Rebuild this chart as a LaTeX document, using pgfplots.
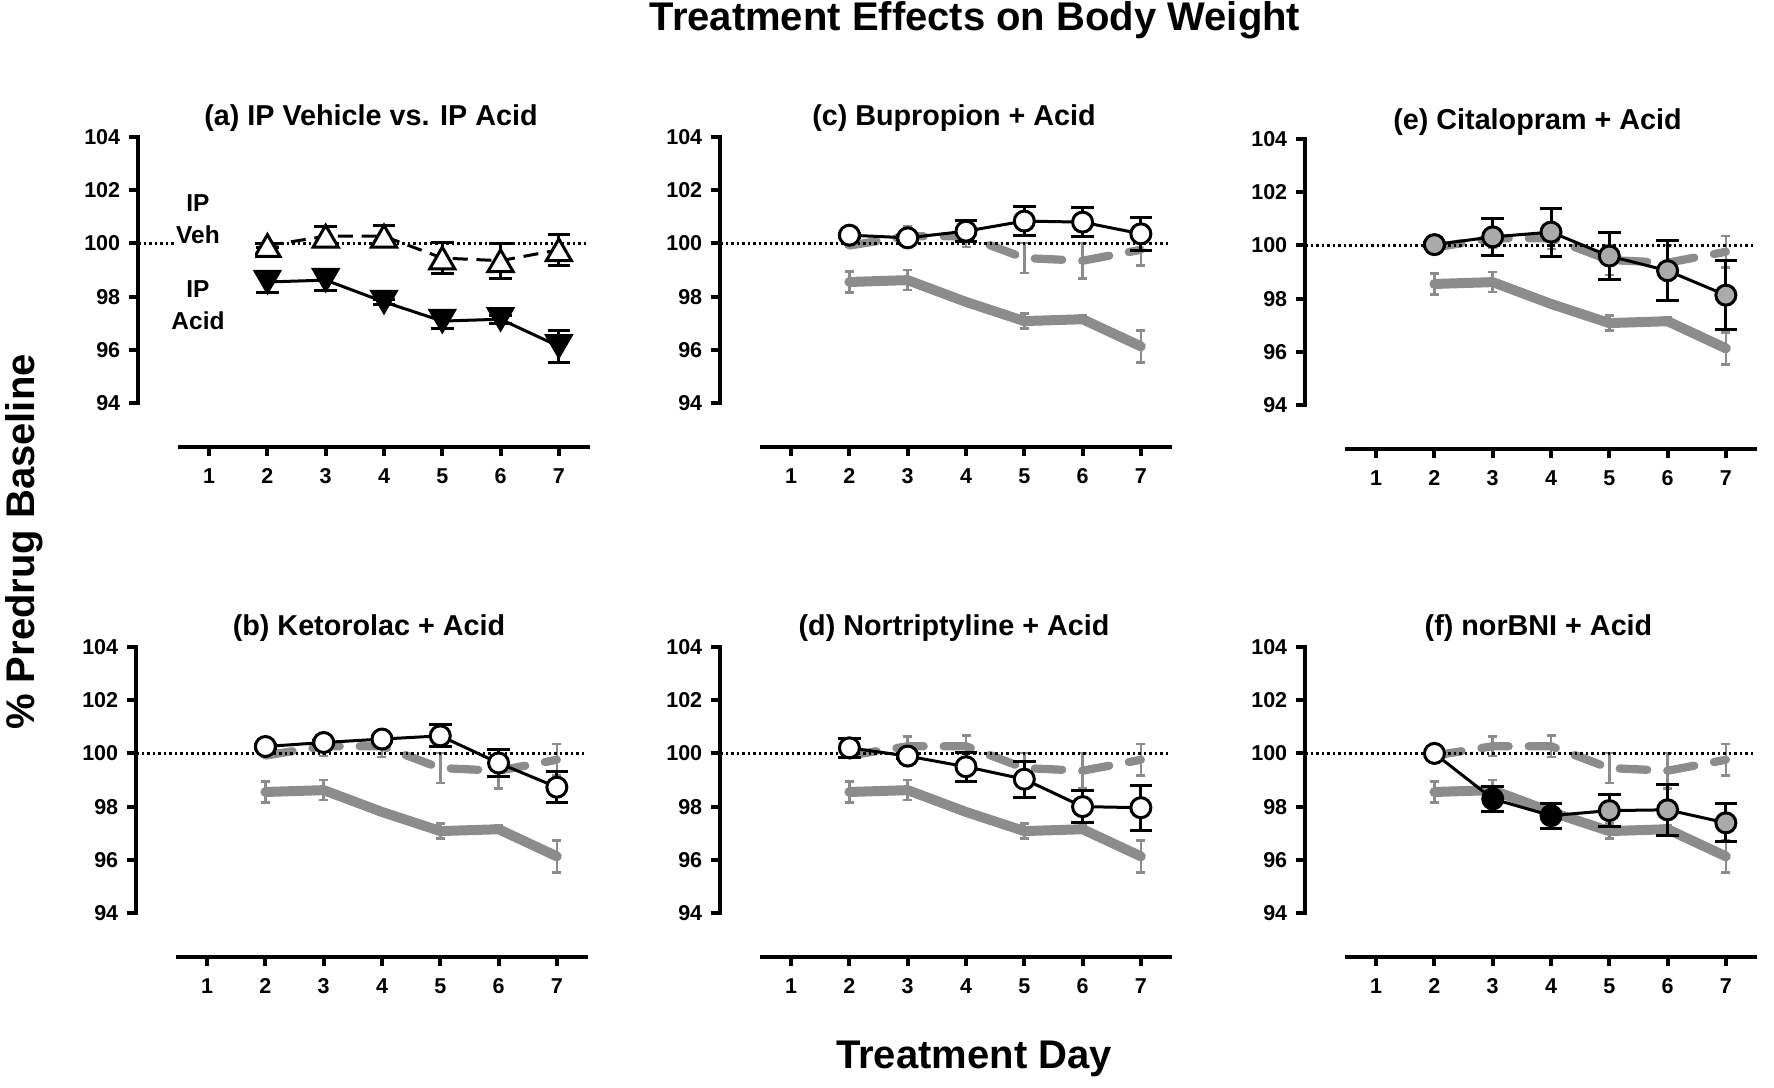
\documentclass[border=0pt]{standalone}
\usepackage{fontspec}
\setmainfont{Liberation Sans}
\usepackage{pgfplots}
\usepackage{pgfplotstable}
\pgfplotsset{compat=1.18}
\definecolor{refgray}{HTML}{8C8C8C}
\definecolor{circgray}{HTML}{AAAAAA}

\pgfplotstableread{
day y e
2 99.92 0.06
3 100.27 0.37
4 100.27 0.40
5 99.45 0.57
6 99.35 0.66
7 99.76 0.59
}\veh
\pgfplotstableread{
day y e
2 98.55 0.40
3 98.62 0.38
4 97.80 0.10
5 97.08 0.28
6 97.15 0.15
7 96.13 0.60
}\acid
\pgfplotstableread{
day y e
2 100.31 0.08
3 100.21 0.08
4 100.46 0.40
5 100.84 0.55
6 100.80 0.55
7 100.36 0.62
}\bup
\pgfplotstableread{
day y e
2 100.03 0.08
3 100.32 0.70
4 100.50 0.90
5 99.60 0.89
6 99.05 1.12
7 98.13 1.30
}\cit
\pgfplotstableread{
day y e
2 100.26 0.08
3 100.41 0.08
4 100.54 0.10
5 100.66 0.41
6 99.64 0.51
7 98.73 0.58
}\ket
\pgfplotstableread{
day y e
2 100.21 0.36
3 99.90 0.10
4 99.50 0.55
5 99.03 0.67
6 98.00 0.60
7 97.96 0.84
}\nor
\pgfplotstableread{
day y e
2 100.00 0.00
3 98.29 0.47
4 97.66 0.47
5 97.85 0.61
6 97.88 0.97
7 97.39 0.72
}\nbni

\pgfplotsset{
  panel/.style={
    scale only axis, width=163.2pt, height=106.4pt,
    xmin=0.5, xmax=7.5, ymin=94, ymax=104,
    axis x line*=bottom, axis y line*=left,
    axis x line shift=17.6pt, axis y line shift=16.8pt,
    axis line style={line width=1.6pt, line cap=rect},
    xtick={1,2,3,4,5,6,7}, ytick={94,96,98,100,102,104},
    tick align=outside, major tick length=3.6pt,
    tick style={line width=1.6pt, black},
    tick label style={font=\fontsize{8.6}{10}\selectfont\bfseries},
    xticklabel style={yshift=-1.5pt},
    /pgf/number format/assume math mode=true,
    clip=false, anchor=south west,
  },
  ebars/.style={
    error bars/y dir=both, error bars/y explicit,
    error bars/error bar style={solid, line width=1.2pt, line cap=butt},
    error bars/error mark options={solid, rotate=90, mark size=4.5pt, line width=1.2pt},
  },
  gbars/.style={
    error bars/y dir=both, error bars/y explicit,
    error bars/error bar style={solid, line width=1pt, line cap=butt, refgray},
    error bars/error mark options={solid, rotate=90, mark size=1.8pt, line width=1pt, refgray},
  },
  blk/.style={black, line width=1.2pt, mark=*, mark size=4pt,
    mark options={solid, fill=white, line width=1.2pt}, ebars},
}

\newcommand{\refplots}{%
  \addplot[refgray, line width=3.3pt, line cap=round, dash pattern=on 11pt off 8pt, gbars]
    table[x=day, y=y, y error=e] {\veh};
  \addplot[refgray, line width=4pt, line join=round, line cap=round, gbars]
    table[x=day, y=y, y error=e] {\acid};
}
\newcommand{\dotline}{%
  \addplot[black, line width=1.1pt, dash pattern=on 1.1pt off 1.1pt] coordinates {(-0.22,100) (7.5,100)};
}

\begin{document}
\begin{tikzpicture}
\useasboundingbox (0,0) rectangle (709.6pt,-434.8pt);

% (a)
\begin{axis}[panel, at={(72pt,-161.2pt)}]
  \dotline
  \addplot[black, line width=1.2pt, dash pattern=on 6pt off 3.5pt, mark=triangle*, mark size=5.8pt,
    mark options={solid, fill=white, line width=1.2pt, yshift=-1.45pt}, ebars]
    table[x=day, y=y, y error=e] {\veh};
  \addplot[black, line width=1.2pt, mark=triangle*, mark size=5.8pt,
    mark options={solid, fill=black, rotate=180, line width=1pt, yshift=-1.45pt}, ebars]
    table[x=day, y=y, y error=e] {\acid};
\end{axis}
\fill[white] (70.8pt,-76pt) rectangle (102pt,-104pt);
\node[align=center, font=\fontsize{9.8}{12.8}\selectfont\bfseries] at (79.2pt,-87.6pt) {IP\\Veh};
\node[align=center, font=\fontsize{9.8}{12.8}\selectfont\bfseries] at (79.2pt,-122pt) {IP\\Acid};

% (c)
\begin{axis}[panel, at={(304.8pt,-161.2pt)}]
  \refplots
  \dotline
  \addplot[blk] table[x=day, y=y, y error=e] {\bup};
\end{axis}

% (e)
\begin{axis}[panel, at={(538.8pt,-162pt)}]
  \refplots
  \dotline
  \addplot[blk, mark options={fill=circgray}] table[x=day, y=y, y error=e] {\cit};
\end{axis}

% (b)
\begin{axis}[panel, at={(71.2pt,-365.2pt)}]
  \refplots
  \dotline
  \addplot[blk] table[x=day, y=y, y error=e] {\ket};
\end{axis}

% (d)
\begin{axis}[panel, at={(304.8pt,-365.2pt)}]
  \refplots
  \dotline
  \addplot[blk] table[x=day, y=y, y error=e] {\nor};
\end{axis}

% (f)
\begin{axis}[panel, at={(538.8pt,-365.2pt)}]
  \refplots
  \dotline
  \addplot[black, line width=1.2pt, no marks, ebars] table[x=day, y=y, y error=e] {\nbni};
  \addplot[only marks, mark=*, mark size=4pt, mark options={fill=white, draw=black, line width=1.2pt}] coordinates {(2,100.00)};
  \addplot[only marks, mark=*, mark size=4pt, mark options={fill=black, draw=black, line width=1.2pt}] coordinates {(3,98.29) (4,97.66)};
  \addplot[only marks, mark=*, mark size=4pt, mark options={fill=circgray, draw=black, line width=1.2pt}] coordinates {(5,97.85) (6,97.88) (7,97.39)};
\end{axis}

% panel titles
\begin{scope}[every node/.style={font=\fontsize{11.5}{13}\selectfont\bfseries}]
\node at (148.4pt,-47.2pt) {(a) IP Vehicle vs. IP Acid};
\node at (381.6pt,-47.2pt) {(c) Bupropion + Acid};
\node at (615pt,-48.8pt) {(e) Citalopram + Acid};
\node at (147.6pt,-251.2pt) {(b) Ketorolac + Acid};
\node at (381.6pt,-251.2pt) {(d) Nortriptyline + Acid};
\node at (615.4pt,-251.2pt) {(f) norBNI + Acid};
\end{scope}

% global labels
\node[font=\fontsize{16}{19}\selectfont\bfseries] at (390pt,-8pt) {Treatment Effects on Body Weight};
\node[font=\fontsize{16}{19}\selectfont\bfseries] at (389.6pt,-423.6pt) {Treatment Day};
\node[font=\fontsize{16}{19}\selectfont\bfseries, rotate=90] at (9.6pt,-216.8pt) {\% Predrug Baseline};
\end{tikzpicture}
\end{document}
